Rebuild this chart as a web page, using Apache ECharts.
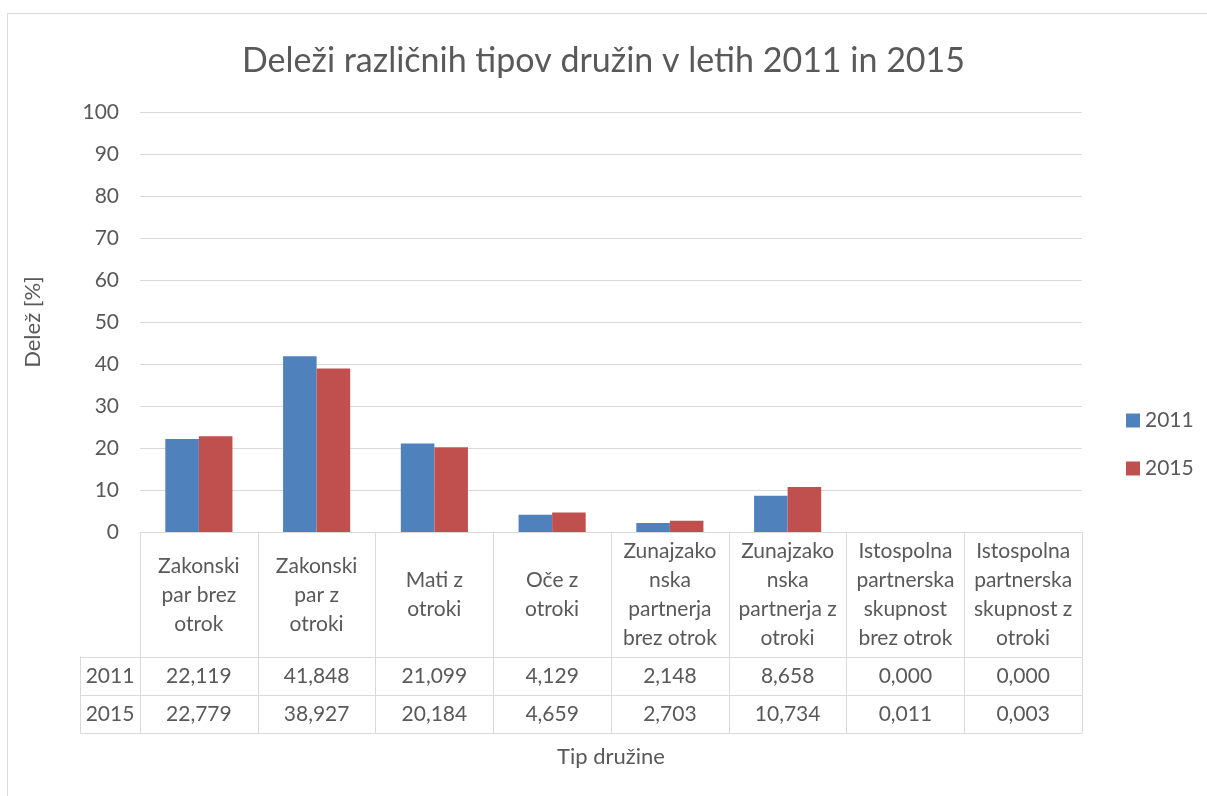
<!DOCTYPE html>
<html><head><meta charset="utf-8">
<script src="https://cdn.jsdelivr.net/npm/echarts@6/dist/echarts.min.js"></script>
<style>
html,body{margin:0;padding:0;width:1207px;height:796px;overflow:hidden;background:#fff}
#frame{position:absolute;left:7px;top:13px;width:1300px;height:900px;border:1px solid #d9d9d9;box-sizing:border-box}
#chart{position:absolute;left:0;top:0;width:1207px;height:796px}
</style></head><body>
<div id="frame"></div><div id="chart"></div>
<script>
const titleText = 'Deleži različnih tipov družin v letih 2011 in 2015';
const categories = [
  'Zakonski\npar brez\notrok',
  'Zakonski\npar z\notroki',
  'Mati z\notroki',
  'Oče z\notroki',
  'Zunajzako\nnska\npartnerja\nbrez otrok',
  'Zunajzako\nnska\npartnerja z\notroki',
  'Istospolna\npartnerska\nskupnost\nbrez otrok',
  'Istospolna\npartnerska\nskupnost z\notroki'
];
const seriesNames = ['2011', '2015'];
const values2011 = [22.119, 41.848, 21.099, 4.129, 2.148, 8.658, 0.000, 0.000];
const values2015 = [22.779, 38.927, 20.184, 4.659, 2.703, 10.734, 0.011, 0.003];
const yMin = 0, yMax = 100, yStep = 10;
const yAxisName = 'Delež [%]';
const xAxisName = 'Tip družine';

const fmt = v => v.toFixed(3).replace('.', ',');
const FONT = 'Lato';
const TXT = '#595959';
const LINE = '#d9d9d9';
const L = 140, R = 125;

const chart = echarts.init(document.getElementById('chart'));
chart.setOption({
  animation: false,
  backgroundColor: 'transparent',
  textStyle: { fontFamily: FONT, color: TXT },
  title: {
    text: titleText, left: 'center', top: 39,
    textStyle: { fontSize: 34, fontWeight: 'normal', color: TXT, fontFamily: FONT }
  },
  legend: {
    orient: 'vertical', left: 1121, top: 405, itemWidth: 14, itemHeight: 14, itemGap: 27,
    icon: 'rect', textStyle: { fontSize: 21, color: TXT, fontFamily: FONT }, data: seriesNames
  },
  grid: [
    { left: L, right: R, top: 112, height: 420 },
    { left: L, right: R, top: 532, height: 125 },
    { left: L, right: R, top: 657, height: 76 }
  ],
  xAxis: [
    { gridIndex: 0, type: 'category', data: categories,
      axisLine: { lineStyle: { color: LINE } }, axisTick: { show: false }, axisLabel: { show: false } },
    { gridIndex: 1, type: 'category', data: categories,
      axisLine: { show: false }, axisTick: { show: false },
      splitLine: { show: true, interval: 0, lineStyle: { color: LINE } },
      axisLabel: { interval: 0, margin: -62, verticalAlign: 'middle', lineHeight: 29, fontSize: 21, color: TXT, fontFamily: FONT } },
    { gridIndex: 2, type: 'category', position: 'bottom', data: categories,
      axisLine: { show: true, lineStyle: { color: LINE } }, axisTick: { show: false },
      splitLine: { show: true, interval: 0, lineStyle: { color: LINE } },
      axisLabel: { interval: 0, margin: -19, verticalAlign: 'middle', fontSize: 21, color: TXT, fontFamily: FONT,
        formatter: (v, i) => fmt(values2015[i]) },
      name: xAxisName, nameLocation: 'middle', nameGap: 13,
      nameTextStyle: { fontSize: 22, color: TXT, fontFamily: FONT, verticalAlign: 'top' } },
    { gridIndex: 2, type: 'category', position: 'top', data: categories,
      axisLine: { show: true, lineStyle: { color: LINE } }, axisTick: { show: false },
      axisLabel: { interval: 0, margin: -19, verticalAlign: 'middle', fontSize: 21, color: TXT, fontFamily: FONT,
        formatter: (v, i) => fmt(values2011[i]) } }
  ],
  yAxis: [
    { gridIndex: 0, type: 'value', min: yMin, max: yMax, interval: yStep,
      axisLine: { show: false }, axisTick: { show: false },
      splitLine: { lineStyle: { color: LINE } },
      axisLabel: { fontSize: 21, color: TXT, fontFamily: FONT, margin: 21 },
      name: yAxisName, nameLocation: 'middle', nameGap: 96,
      nameTextStyle: { fontSize: 22, color: TXT, fontFamily: FONT } },
    { gridIndex: 1, type: 'value', show: false },
    { gridIndex: 2, type: 'category', position: 'left', data: ['2015', '2011'],
      axisLine: { show: true, lineStyle: { color: LINE } },
      axisTick: { show: true, length: 60, lineStyle: { color: LINE } },
      splitLine: { show: true, lineStyle: { color: LINE } },
      axisLabel: { margin: 30, align: 'center', fontSize: 21, color: TXT, fontFamily: FONT } },
    { gridIndex: 2, type: 'category', position: 'left', data: ['2015', '2011'], offset: 60,
      axisLine: { show: true, lineStyle: { color: LINE } }, axisTick: { show: false }, axisLabel: { show: false } }
  ],
  series: [
    { name: seriesNames[0], type: 'bar', xAxisIndex: 0, yAxisIndex: 0, data: values2011,
      itemStyle: { color: '#4F81BD' }, barGap: '0%', barCategoryGap: '43%' },
    { name: seriesNames[1], type: 'bar', xAxisIndex: 0, yAxisIndex: 0, data: values2015,
      itemStyle: { color: '#C0504D' }, barGap: '0%', barCategoryGap: '43%' }
  ]
});
</script>
</body></html>
